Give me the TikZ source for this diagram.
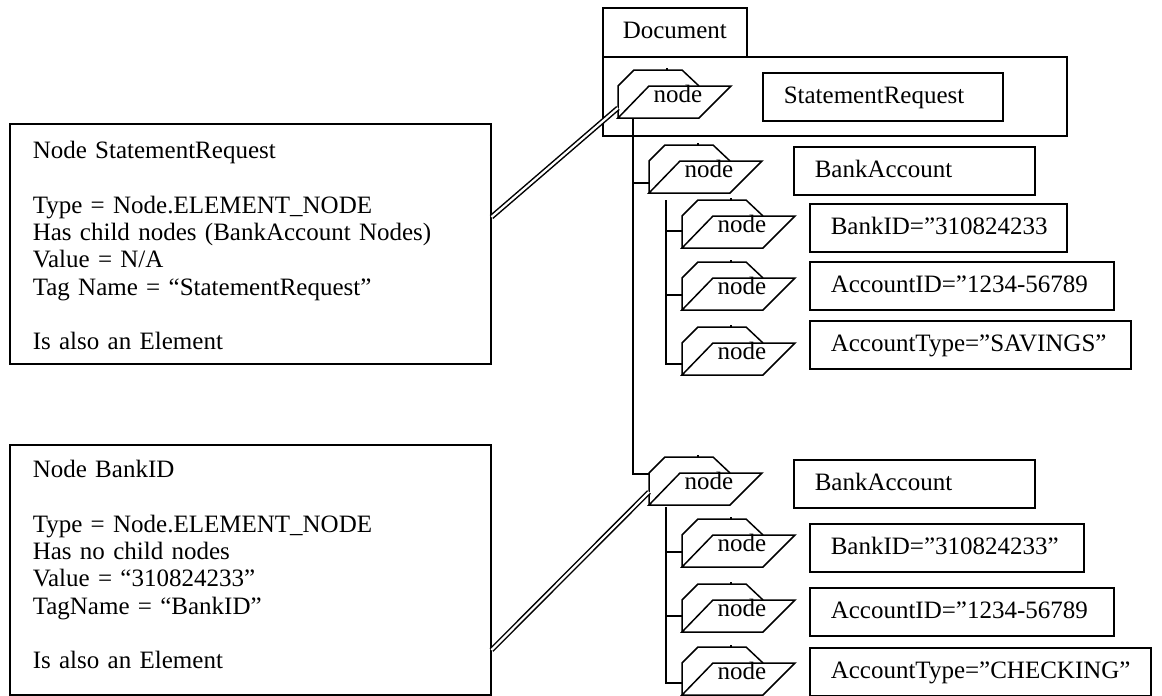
\documentclass[tikz,border=0pt]{standalone}
\usepackage{fontspec}
\setmainfont{Liberation Serif}
\newcommand\bigtext{\fontsize{25}{27.3}\selectfont}
\tikzset{
  boxpen/.style={draw, line width=1.5pt},
  valbox/.style={boxpen, anchor=north west, inner xsep=21pt, inner ysep=0pt,
    minimum height=48pt, text height=18pt, text depth=5pt, align=left, font=\bigtext},
  infobox/.style={boxpen, anchor=north west, inner xsep=23pt, inner ysep=0pt,
    text width=435pt, align=left, font=\bigtext},
  iconpen/.style={line width=1.5pt, line join=miter},
  treepen/.style={line width=1.6pt},
  linkpen/.style={double, double distance=2.2pt, line width=1.5pt},
  icontext/.style={anchor=base, inner sep=0pt, font=\bigtext},
}
% DOM node icon: a tab folder behind a parallelogram, #2,#3 = bottom-left corner
\newcommand\treenode[3]{%
  \coordinate (#1-sw) at (#2,#3);
  \draw[iconpen] (#1-sw) -- ++(0,-32) -- ++(16,-16) -- ++(48,0) -- ++(17,16);
  \draw[iconpen] (#1-sw) -- ++(81,0) -- ++(32,-32) -- ++(-82,0) -- cycle;
  \draw[iconpen] ([xshift=49pt]#1-sw) ++(0,-48) -- ++(0,-2);
  \node[icontext] (#1) at ([xshift=60pt,yshift=16pt]#1-sw) {node};
}
\begin{document}
\begin{tikzpicture}[x=1pt, y=-1pt]
\useasboundingbox (0,0) rectangle (1162,696);

% Document container
\node[valbox, text width=104pt, inner xsep=20pt, minimum height=49pt] (doctab) at (602,7) {Document};
\node[boxpen, anchor=north west, minimum width=464pt, minimum height=79pt, inner sep=0pt] (docbody) at (602,56) {};

% DOM tree icons
\treenode{d0}{618}{118}
\treenode{ba1}{649}{193}
\treenode{bida}{682}{248}
\treenode{acca}{682}{310}
\treenode{typa}{682}{375}
\treenode{ba2}{649}{505}
\treenode{bidb}{682}{567}
\treenode{accb}{682}{632}
\treenode{typb}{682}{695}

% element / attribute boxes
\node[valbox, text width=198pt] (sr) at (762,72) {StatementRequest};
\node[valbox, text width=199pt] (baa) at (793,146) {BankAccount};
\node[valbox, text width=215pt] (vbida) at (809,203) {BankID=”310824233};
\node[valbox, text width=262pt] (vacca) at (809,261) {AccountID=”1234-56789};
\node[valbox, text width=279pt] (vtypa) at (809,320) {AccountType=”SAVINGS”};
\node[valbox, text width=199pt] (bab) at (793,459) {BankAccount};
\node[valbox, text width=232pt] (vbidb) at (809,523) {BankID=”310824233”};
\node[valbox, text width=262pt] (vaccb) at (809,587) {AccountID=”1234-56789};
\node[valbox, text width=299pt] (vtypb) at (809,647) {AccountType=”CHECKING”};

% tree connectors
\coordinate (d0-stem) at ([xshift=15pt]d0-sw);
\draw[treepen] (d0-stem) |- ([yshift=10pt]ba1-sw);
\draw[treepen] (d0-stem) |- ([yshift=31pt]ba2-sw);
\coordinate (ba1-stem) at ([xshift=17pt,yshift=-7pt]ba1-sw);
\draw[treepen] (ba1-stem) |- ([yshift=17pt]bida-sw);
\draw[treepen] (ba1-stem) |- ([yshift=15pt]acca-sw);
\draw[treepen] (ba1-stem) |- ([yshift=11pt]typa-sw);
\coordinate (ba2-stem) at ([xshift=17pt,yshift=-2pt]ba2-sw);
\draw[treepen] (ba2-stem) |- ([yshift=15pt]bidb-sw);
\draw[treepen] (ba2-stem) |- ([yshift=16pt]accb-sw);
\draw[treepen] (ba2-stem) |- ([yshift=12pt]typb-sw);

% description boxes
\node[infobox, text height=35pt, text depth=205pt] (srinfo) at (9,123)
  {Node StatementRequest\\[27.3pt]
   Type = Node.ELEMENT\_NODE\\
   Has child nodes (BankAccount Nodes)\\
   Value = N/A\\
   Tag Name = “StatementRequest”\\[27.3pt]
   Is also an Element};
\node[infobox, text height=33pt, text depth=217pt] (bidinfo) at (9,444)
  {Node BankID\\[27.3pt]
   Type = Node.ELEMENT\_NODE\\
   Has no child nodes\\
   Value = “310824233”\\
   TagName = “BankID”\\[27.3pt]
   Is also an Element};

% links from descriptions to the nodes they describe
\draw[linkpen] ([yshift=-94pt]srinfo.north east) -- ([yshift=10pt]d0-sw);
\draw[linkpen] ([yshift=-206pt]bidinfo.north east) -- ([yshift=13pt]ba2-sw);
\end{tikzpicture}
\end{document}
